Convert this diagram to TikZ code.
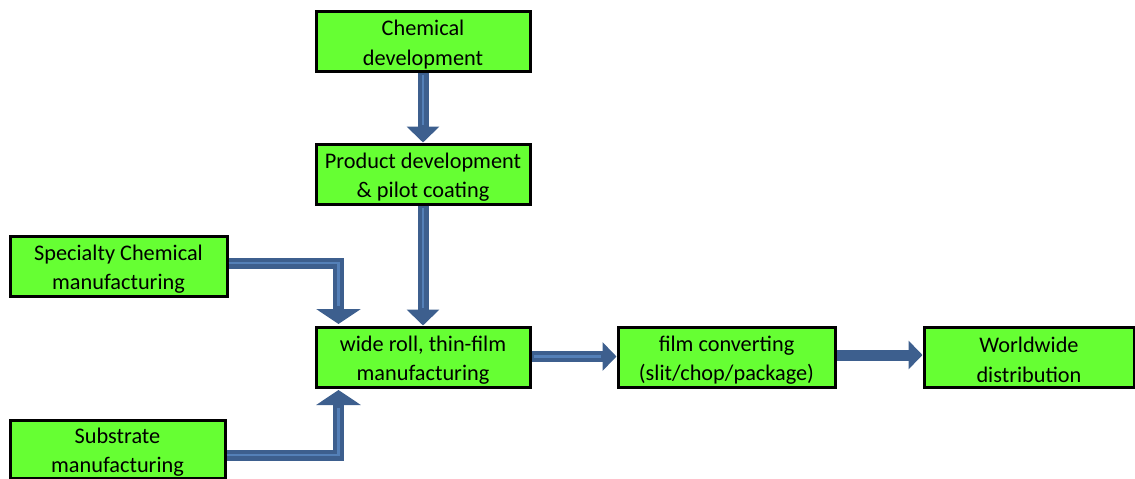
\documentclass[tikz,border=0pt]{standalone}
\usepackage{fontspec}
\setmainfont{Carlito}
\usetikzlibrary{arrows.meta,calc}
\definecolor{boxgreen}{HTML}{66FF33}
\definecolor{arrdark}{HTML}{3D5F8E}
\definecolor{arrlight}{HTML}{5480B8}
\tikzset{
  box/.style={draw=black,line width=3pt,fill=boxgreen,minimum width=214pt,minimum height=60pt,
    inner sep=0pt},
  txt/.style={inner sep=0pt,align=center,font=\fontsize{22.3}{29.5}\selectfont},
  flow/.style={draw=arrdark,line width=11pt,-{Triangle[length=16pt,width=32pt]}},
  bigflow/.style={draw=arrdark,line width=11pt,-{Triangle[length=15pt,width=44pt]}},
  shine/.style={draw=arrlight,line width=2.5pt},
}
\begin{document}
\begin{tikzpicture}[x=1pt,y=-1pt]
\useasboundingbox (0,0) rectangle (1135,479);
\node[box] (chem) at (423,41.5) {};
\node[box] (prod) at (423,174) {};
\node[box,minimum width=217pt] (spec) at (118.5,266) {};
\node[box] (wide) at (423,357) {};
\node[box,minimum width=217pt] (film) at (726.5,357) {};
\node[box,minimum width=210pt] (world) at (1029,357) {};
\node[box,minimum width=215pt,minimum height=58pt] (sub) at (117.5,449) {};

\node[txt] (chemt) at ($(chem.center)+(0,3)$) {Chemical\\development};
\node[txt] (prodt) at ($(prod.center)+(0,3)$) {Product development\\\& pilot coating};
\node[txt] (spect) at ($(spec.center)+(0,3)$) {Specialty Chemical\\manufacturing};
\node[txt] (widet) at ($(wide.center)+(0,3)$) {wide roll, thin-film\\manufacturing};
\node[txt] (filmt) at ($(film.center)+(0,3)$) {film converting\\(slit/chop/package)};
\node[txt] (worldt) at ($(world.center)+(0,3)$) {Worldwide\\distribution};
\node[txt] (subt) at ($(sub.center)+(0,3)$) {Substrate\\manufacturing};

\coordinate (wtop) at ($(wide.north west)+(24,-1.5)$);
\coordinate (wbot) at ($(wide.south west)+(24,1.5)$);

% vertical arrows
\draw[flow] (chem.south) -- (prod.north);
\draw[shine] ($(chem.south)+(0,2)$) -- ($(prod.north)+(0,-18)$);
\draw[flow] (prod.south) -- (wide.north);
\draw[shine] ($(prod.south)+(0,2)$) -- ($(wide.north)+(0,-18)$);
% elbow arrows
\draw[bigflow] ($(spec.east)+(0,-3)$) -| (wtop);
\draw[shine] ($(spec.east)+(0,-3)$) -| ($(wtop)+(0,-18)$);
\draw[bigflow] ($(sub.east)+(0,6)$) -| (wbot);
\draw[shine] ($(sub.east)+(0,6)$) -| ($(wbot)+(0,18)$);
% horizontal arrows
\draw[flow,-{Triangle[length=14pt,width=28pt]}] ($(wide.east)+(0,-0.5)$) -- ($(film.west)+(0,-0.5)$);
\draw[shine] ($(wide.east)+(2,-0.5)$) -- ($(film.west)+(-16,-0.5)$);
\draw[flow,-{Triangle[length=14pt,width=28pt]}] ($(film.east)+(0,-2)$) -- ($(world.west)+(0,-2)$);
\end{tikzpicture}
\end{document}
